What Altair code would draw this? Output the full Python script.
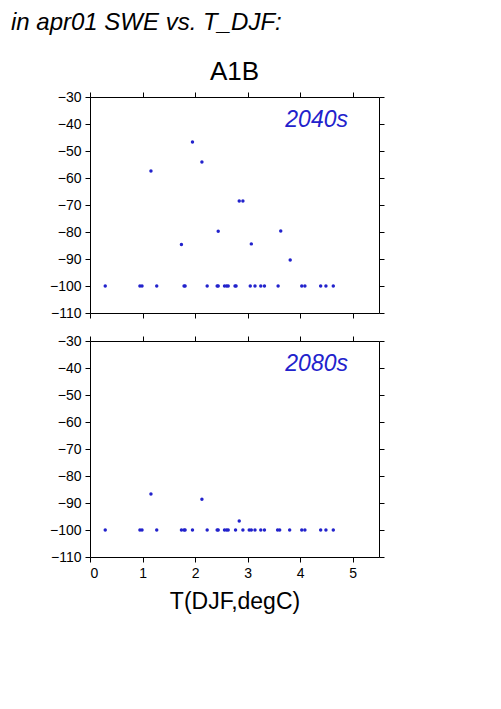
import altair as alt
import pandas as pd

# ---- data ----
t_2040s = [0.29, 0.95, 0.99, 1.16, 1.27, 1.74, 1.79, 1.81, 1.95, 2.13, 2.23, 2.42, 2.44, 2.44,
           2.56, 2.60, 2.63, 2.76, 2.78, 2.84, 2.91, 3.05, 3.07, 3.14, 3.25, 3.32, 3.58, 3.63,
           3.81, 4.03, 4.09, 4.39, 4.49, 4.63]
swe_2040s = [-100, -100, -100, -57.4, -100, -84.6, -100, -100, -46.7, -54.1, -100, -100, -100, -79.7,
             -100, -100, -100, -100, -100, -68.5, -68.5, -100, -84.4, -100, -100, -100, -100, -79.6,
             -90.4, -100, -100, -100, -100, -100]
t_2080s = [0.29, 0.95, 0.99, 1.16, 1.27, 1.74, 1.79, 1.81, 1.95, 2.13, 2.23, 2.42, 2.44,
           2.56, 2.60, 2.63, 2.77, 2.84, 2.91, 3.03, 3.07, 3.14, 3.25, 3.32, 3.57, 3.61,
           3.80, 4.03, 4.09, 4.39, 4.49, 4.63]
swe_2080s = [-100, -100, -100, -86.7, -100, -100, -100, -100, -100, -88.6, -100, -100, -100,
             -100, -100, -100, -100, -96.7, -100, -100, -100, -100, -100, -100, -100, -100,
             -100, -100, -100, -100, -100, -100]
periods = ["2040s", "2080s"]
x_ticks = [0, 1, 2, 3, 4, 5]
y_ticks = [-110, -100, -90, -80, -70, -60, -50, -40, -30]
main_title = "in apr01 SWE vs. T_DJF:"
scenario = "A1B"
x_title = "T(DJF,degC)"

FONT = "Liberation Sans"
BLUE = "#2222cc"
W, H = 289, 216


def axis(orient, values, labels, title=None):
    kw = dict(orient=orient, values=values, labels=labels, ticks=True, tickSize=5,
              tickColor="black", tickWidth=1, domain=False, grid=False,
              labelFont=FONT, labelFontSize=14, labelColor="black", labelPadding=4)
    if title is not None:
        kw.update(title=title, titleFont=FONT, titleFontSize=23, titleFontWeight="normal",
                  titleColor="black", titlePadding=10)
    else:
        kw.update(title=None)
    return alt.Axis(**kw)


def panel(t, swe, label, bottom):
    df = pd.DataFrame({"t": t, "swe": swe})
    xs = alt.Scale(domain=[0, 5.5], nice=False, zero=False)
    ys = alt.Scale(domain=[-110, -30], nice=False, zero=False)
    pts = alt.Chart(df).mark_circle(size=12, color=BLUE, opacity=1).encode(
        x=alt.X("t:Q", scale=xs, axis=axis("bottom", x_ticks, bottom, x_title if bottom else None)),
        y=alt.Y("swe:Q", scale=ys, axis=axis("left", y_ticks, True)),
    )
    frame = alt.Chart(df).mark_circle(size=1, opacity=0).encode(
        x=alt.X("t:Q", scale=xs, axis=axis("top", x_ticks, False)),
        y=alt.Y("swe:Q", scale=ys, axis=axis("right", y_ticks, False)),
    )
    txt = alt.Chart(pd.DataFrame({"label": [label]})).mark_text(
        align="right", baseline="top", font=FONT, fontStyle="italic", fontSize=23, color=BLUE
    ).encode(x=alt.value(W - 31), y=alt.value(12), text="label:N")
    return alt.layer(pts, frame, txt).resolve_axis(x="independent", y="independent").properties(
        width=W, height=H)


top = panel(t_2040s, swe_2040s, periods[0], False).properties(
    title=alt.TitleParams(scenario, font=FONT, fontSize=26, fontWeight="normal", color="black",
                          anchor="middle", offset=5))
bot = panel(t_2080s, swe_2080s, periods[1], True)

chart = alt.vconcat(top, bot, spacing=12).properties(
    title=alt.TitleParams(main_title, font=FONT, fontSize=24, fontStyle="italic",
                          fontWeight="normal", color="black", anchor="start", dx=-38, offset=24),
    padding={"left": 2, "top": 2, "right": 5, "bottom": 5},
).configure_view(stroke="black", strokeWidth=1)

chart.save("out.html", embed_options={"renderer": "svg", "actions": False})
